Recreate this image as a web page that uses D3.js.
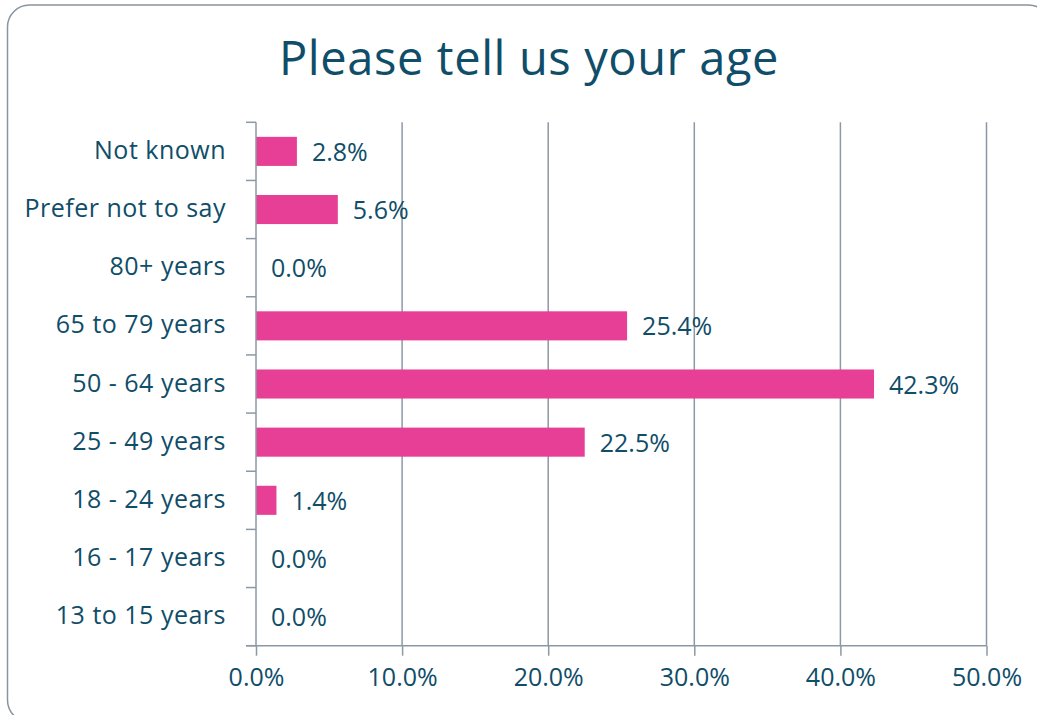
<!DOCTYPE html>
<html>
<head>
<meta charset="utf-8">
<script src="https://cdn.jsdelivr.net/npm/d3@7"></script>
<style>
  html, body { margin: 0; padding: 0; background: #ffffff; }
  svg { display: block; }
  text { font-family: "Open Sans", "Noto Sans", sans-serif; }
</style>
</head>
<body>
<svg id="chart" width="1037" height="715"></svg>
<script>
// Survey responses: age group shares (percent)
const categories = [
  "Not known",
  "Prefer not to say",
  "80+ years",
  "65 to 79 years",
  "50 - 64 years",
  "25 - 49 years",
  "18 - 24 years",
  "16 - 17 years",
  "13 to 15 years"
];
const values = [2.8, 5.6, 0.0, 25.4, 42.3, 22.5, 1.4, 0.0, 0.0];
const xTicks = [0, 10, 20, 30, 40, 50];
const title = "Please tell us your age";

const W = 1037, H = 715;
const textColor = "#0f4d69";
const gridColor = "#8d98a5";
const barColor = "#e83f96";

const svg = d3.select("#chart");

// card outline
svg.append("rect")
  .attr("x", 7.5).attr("y", 5)
  .attr("width", 1043).attr("height", 717)
  .attr("rx", 22).attr("ry", 22)
  .attr("fill", "#ffffff")
  .attr("stroke", "#8a949f")
  .attr("stroke-width", 1.5);

svg.append("text")
  .attr("x", 529).attr("y", 75)
  .attr("text-anchor", "middle")
  .attr("fill", textColor)
  .attr("font-size", 47)
  .attr("letter-spacing", 0.6)
  .text(title);

const margin = { left: 256, right: W - 986.5, top: 122.3, bottom: H - 645.7 };

const x = d3.scaleLinear()
  .domain([0, 50])
  .range([margin.left, W - margin.right]);

const y = d3.scaleBand()
  .domain(categories)
  .range([margin.top, H - margin.bottom])
  .paddingInner(0.5)
  .paddingOuter(0.25);

// vertical gridlines
svg.append("g")
  .selectAll("line")
  .data(xTicks.slice(1))
  .join("line")
  .attr("x1", d => x(d)).attr("x2", d => x(d))
  .attr("y1", margin.top).attr("y2", H - margin.bottom)
  .attr("stroke", gridColor)
  .attr("stroke-width", 1.5);

// bars
svg.append("g")
  .selectAll("rect")
  .data(values)
  .join("rect")
  .attr("x", x(0))
  .attr("y", (d, i) => y(categories[i]))
  .attr("width", d => x(d) - x(0))
  .attr("height", y.bandwidth())
  .attr("fill", barColor);

// value labels
svg.append("g")
  .selectAll("text")
  .data(values)
  .join("text")
  .attr("x", d => x(d) + 15)
  .attr("y", (d, i) => y(categories[i]) + y.bandwidth() / 2)
  .attr("dy", "0.38em")
  .attr("fill", textColor)
  .attr("font-size", 25)
  .text(d => d.toFixed(1) + "%");

// y axis (category boundaries as ticks)
const yAxisG = svg.append("g");
const step = y.step();
const boundaries = d3.range(categories.length + 1).map(i => margin.top + i * step);
yAxisG.append("line")
  .attr("x1", x(0)).attr("x2", x(0))
  .attr("y1", margin.top).attr("y2", H - margin.bottom)
  .attr("stroke", gridColor).attr("stroke-width", 1.5);
yAxisG.selectAll("line.tick")
  .data(boundaries)
  .join("line")
  .attr("class", "tick")
  .attr("x1", x(0) - 10).attr("x2", x(0))
  .attr("y1", d => d).attr("y2", d => d)
  .attr("stroke", gridColor).attr("stroke-width", 1.5);
yAxisG.selectAll("text")
  .data(categories)
  .join("text")
  .attr("x", x(0) - 30)
  .attr("y", d => y(d) + y.bandwidth() / 2)
  .attr("dy", "0.3em")
  .attr("text-anchor", "end")
  .attr("fill", textColor)
  .attr("font-size", 25)
  .attr("letter-spacing", 0.5)
  .text(d => d);

// x axis
const xAxis = d3.axisBottom(x)
  .tickValues(xTicks)
  .tickSize(10)
  .tickPadding(13)
  .tickFormat(d => d.toFixed(1) + "%");
const xAxisG = svg.append("g")
  .attr("transform", `translate(0,${H - margin.bottom})`)
  .call(xAxis);
xAxisG.select(".domain").remove();
xAxisG.append("line")
  .attr("x1", x(0) - 10).attr("x2", x(50))
  .attr("y1", 0).attr("y2", 0)
  .attr("stroke", gridColor).attr("stroke-width", 1.5);
xAxisG.selectAll(".tick line")
  .attr("stroke", gridColor).attr("stroke-width", 1.5);
xAxisG.selectAll(".tick text")
  .attr("fill", textColor)
  .attr("font-size", 25)
  .attr("font-family", "\"Open Sans\", \"Noto Sans\", sans-serif");
</script>
</body>
</html>
